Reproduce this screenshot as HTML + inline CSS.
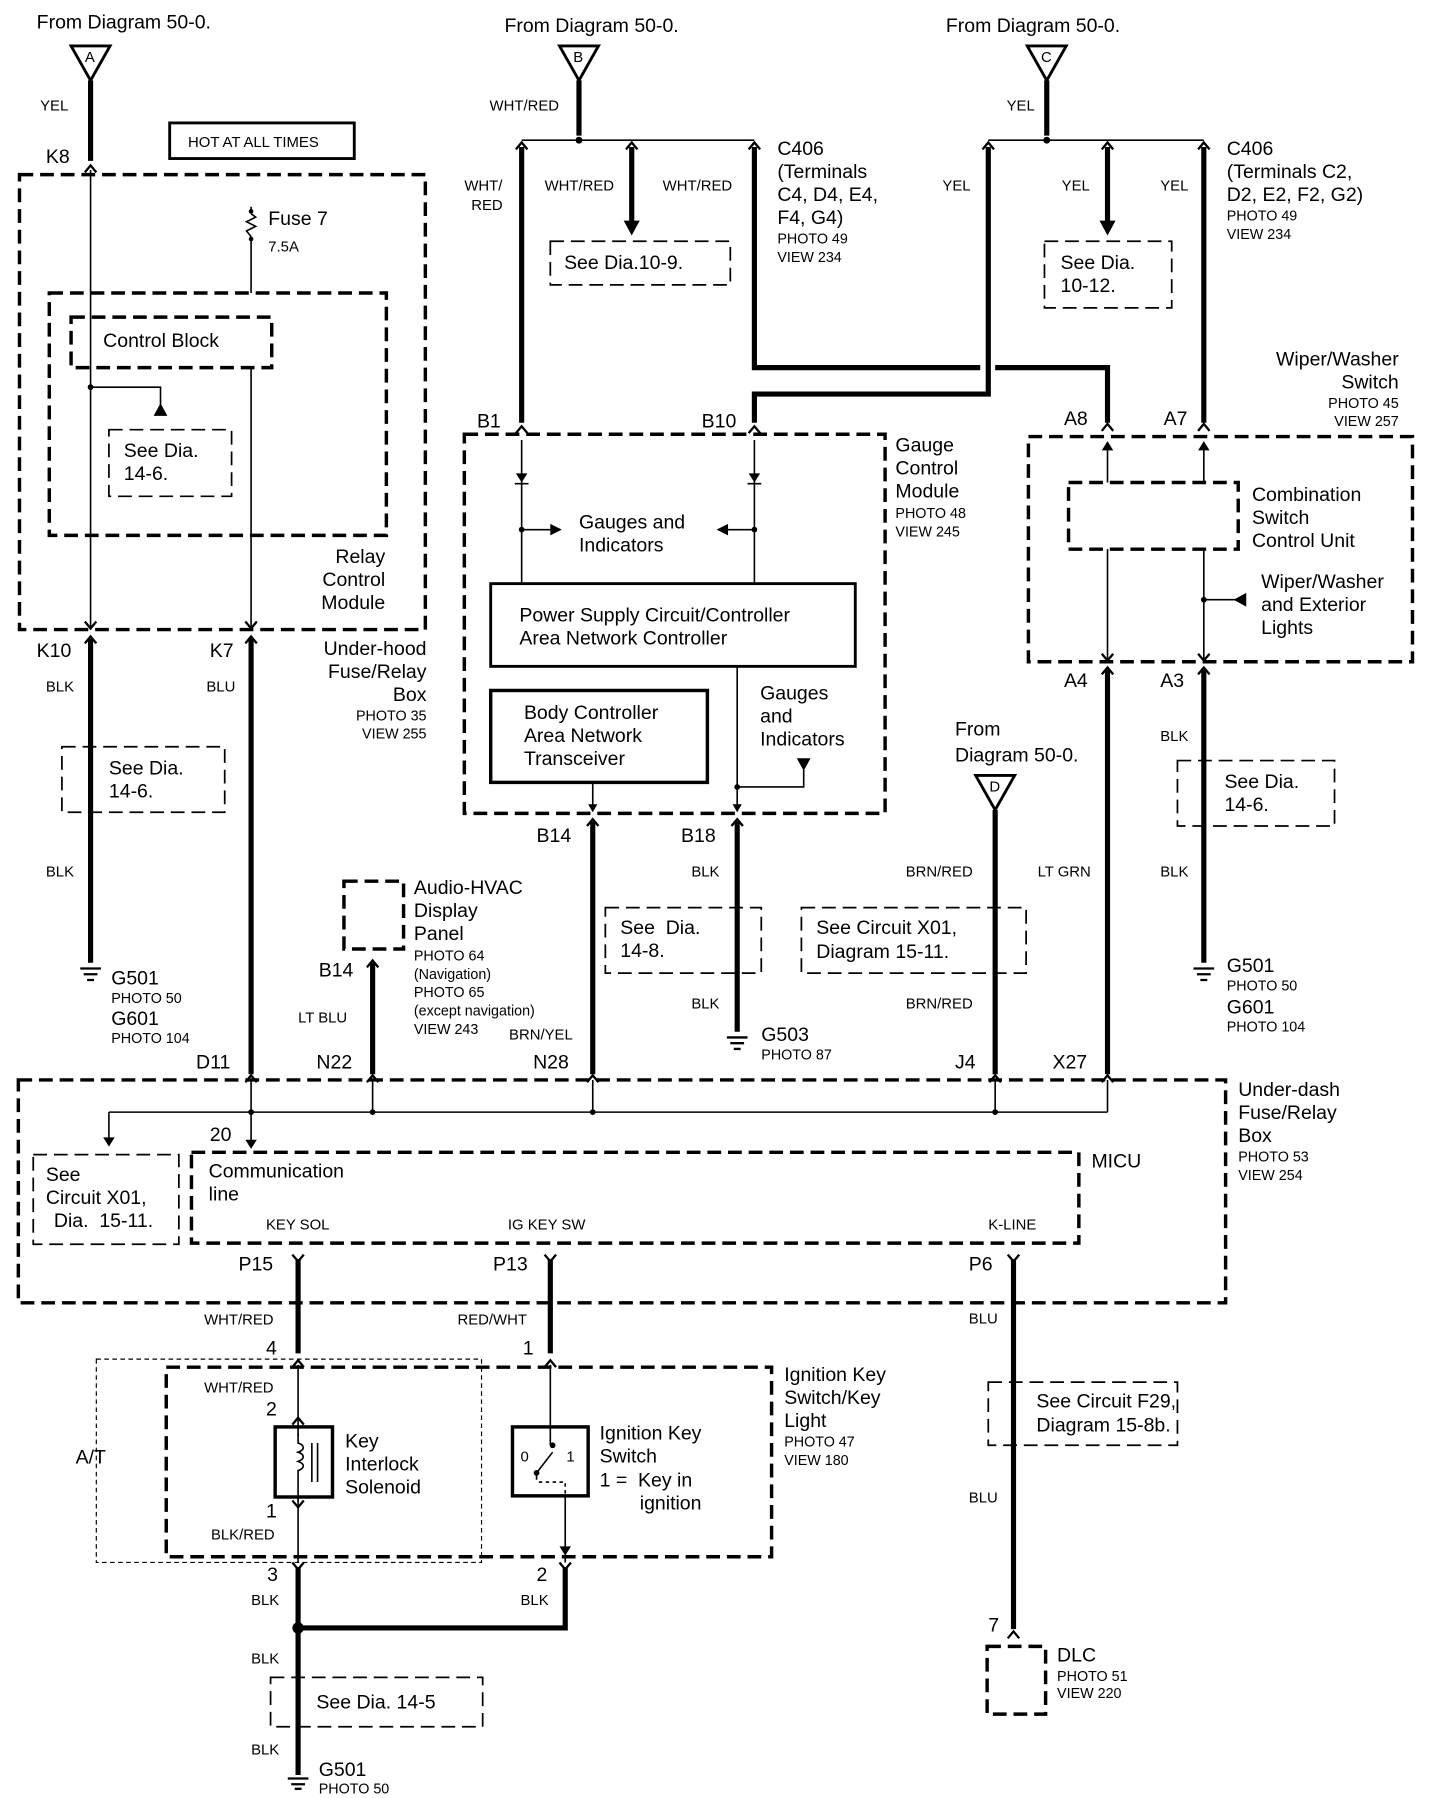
<!DOCTYPE html>
<html><head><meta charset="utf-8"><style>
html,body{margin:0;padding:0;background:#fff}
svg{display:block}
text{font-family:"Liberation Sans",sans-serif;fill:#000}
.L{font-size:17px}.S{font-size:13px}.P{font-size:12.5px}
.tk{stroke:#000;stroke-width:4.5;fill:none}
.tn{stroke:#000;stroke-width:1.4;fill:none}
.db{stroke:#000;stroke-width:3;fill:none;stroke-dasharray:12 6}
.dl{stroke:#000;stroke-width:1.5;fill:none;stroke-dasharray:12 6}
.sb{stroke:#000;stroke-width:2.5;fill:none}
.c{stroke:#000;stroke-width:2;fill:none}
</style></head><body>
<svg width="1440" height="1798" viewBox="0 0 1256 1565" preserveAspectRatio="none" xmlns="http://www.w3.org/2000/svg">
<!-- Top left A -->
<text class="L" x="32" y="25">From Diagram 50-0.</text>
<path class="sb" d="M62 40 L96 40 L79 70 Z"/><text class="S" x="74" y="54">A</text>
<path class="tk" d="M79 70 V140"/>
<text class="S" x="35" y="96">YEL</text><text class="L" x="40" y="142">K8</text>
<path class="c" d="M74 150 L79 144 L84 150"/>
<rect x="148" y="107" width="161" height="31" class="sb"/><text class="S" x="164" y="128">HOT AT ALL TIMES</text>
<rect class="db" x="17" y="152" width="354" height="396"/>
<path class="tn" d="M79 148 V548"/>
<path class="tn" d="M219 180 V186 M219 206 V255 M219 320 V548"/>
<path class="tn" d="M219 186 l4 3 l-8 4 l8 4 l-8 4 l4 5"/>
<circle cx="219" cy="184" r="2"/><circle cx="219" cy="208" r="2"/>
<text class="L" x="234" y="196">Fuse 7</text><text class="S" x="234" y="219">7.5A</text>
<rect class="db" x="43" y="255" width="294" height="211"/>
<rect class="db" x="62" y="276" width="175" height="44"/><text class="L" x="90" y="302">Control Block</text>
<circle cx="79" cy="337" r="2.5"/><path class="tn" d="M79 337 H140 V358"/><path d="M134 362 L146 362 L140 351 Z"/>
<rect class="dl" x="95" y="374" width="107" height="58"/>
<text class="L" x="108" y="398">See Dia.</text><text class="L" x="108" y="418">14-6.</text>
<text class="L" x="336" y="490" text-anchor="end">Relay</text><text class="L" x="336" y="510" text-anchor="end">Control</text><text class="L" x="336" y="530" text-anchor="end">Module</text>
<path class="c" d="M74 541 L79 547 L84 541 M214 541 L219 547 L224 541"/>
<text class="L" x="32" y="572">K10</text><text class="L" x="183" y="572">K7</text>
<path class="c" d="M74 560 L79 554 L84 560 M214 560 L219 554 L224 560"/>
<path class="tk" d="M79 556 V838"/>
<text class="S" x="40" y="602">BLK</text><text class="S" x="40" y="763">BLK</text><text class="S" x="180" y="602">BLU</text>
<rect class="dl" x="54" y="650" width="142" height="57"/><text class="L" x="95" y="674">See Dia.</text><text class="L" x="95" y="694">14-6.</text>
<path class="c" d="M70 843 H88 M73 848 H85 M76 853 H82"/>
<text class="L" x="97" y="857">G501</text><text class="P" x="97" y="873">PHOTO 50</text><text class="L" x="97" y="892">G601</text><text class="P" x="97" y="908">PHOTO 104</text>
<path class="tk" d="M219 556 V935"/>
<text class="L" x="372" y="570" text-anchor="end">Under-hood</text><text class="L" x="372" y="590" text-anchor="end">Fuse/Relay</text><text class="L" x="372" y="610" text-anchor="end">Box</text>
<text class="P" x="372" y="627" text-anchor="end">PHOTO 35</text><text class="P" x="372" y="643" text-anchor="end">VIEW 255</text>

<!-- B -->
<text class="L" x="440" y="28">From Diagram 50-0.</text>
<path class="sb" d="M488 40 L522 40 L505 70 Z"/><text class="S" x="500" y="54">B</text>
<path class="tk" d="M505 70 V118"/><text class="S" x="427" y="96">WHT/RED</text>
<path class="tn" d="M455 122 H658"/><circle cx="505" cy="122" r="3"/>
<path class="c" d="M450 130 L455 124 L460 130 M546 130 L551 124 L556 130 M653 130 L658 124 L663 130"/>
<path class="tk" d="M455 128 V368"/>
<text class="S" x="405" y="166">WHT/</text><text class="S" x="411" y="183">RED</text>
<text class="S" x="475" y="166">WHT/RED</text><text class="S" x="578" y="166">WHT/RED</text>
<path class="tk" d="M551 128 V195"/><path d="M544 192 L558 192 L551 205 Z"/>
<rect class="dl" x="480" y="210" width="157" height="38"/><text class="L" x="492" y="234">See Dia.10-9.</text>
<path class="tk" d="M658 128 V320 H855 M868 320 H966 V368"/>
<path class="tk" d="M658 368 V343 H862 V128"/>
<text class="L" x="678" y="135">C406</text><text class="L" x="678" y="155">(Terminals</text><text class="L" x="678" y="175">C4, D4, E4,</text><text class="L" x="678" y="195">F4, G4)</text>
<text class="P" x="678" y="212">PHOTO 49</text><text class="P" x="678" y="228">VIEW 234</text>

<!-- C -->
<text class="L" x="825" y="28">From Diagram 50-0.</text>
<path class="sb" d="M896 40 L930 40 L913 70 Z"/><text class="S" x="908" y="54">C</text>
<path class="tk" d="M913 70 V118"/><text class="S" x="878" y="96">YEL</text>
<path class="tn" d="M862 122 H1050"/><circle cx="913" cy="122" r="3"/>
<path class="c" d="M857 130 L862 124 L867 130 M961 130 L966 124 L971 130 M1045 130 L1050 124 L1055 130"/>
<text class="S" x="822" y="166">YEL</text><text class="S" x="926" y="166">YEL</text><text class="S" x="1012" y="166">YEL</text>
<path class="tk" d="M966 128 V195"/><path d="M959 192 L973 192 L966 205 Z"/>
<rect class="dl" x="911" y="210" width="111" height="58"/><text class="L" x="925" y="234">See Dia.</text><text class="L" x="925" y="254">10-12.</text>
<path class="tk" d="M1050 128 V368"/>
<text class="L" x="1070" y="135">C406</text><text class="L" x="1070" y="155">(Terminals C2,</text><text class="L" x="1070" y="175">D2, E2, F2, G2)</text>
<text class="P" x="1070" y="192">PHOTO 49</text><text class="P" x="1070" y="208">VIEW 234</text>

<!-- Wiper -->
<text class="L" x="1220" y="318" text-anchor="end">Wiper/Washer</text><text class="L" x="1220" y="338" text-anchor="end">Switch</text>
<text class="P" x="1220" y="355" text-anchor="end">PHOTO 45</text><text class="P" x="1220" y="371" text-anchor="end">VIEW 257</text>
<text class="L" x="928" y="370">A8</text><text class="L" x="1015" y="370">A7</text>
<path class="c" d="M961 375 L966 369 L971 375 M1045 375 L1050 369 L1055 375"/>
<rect class="db" x="897" y="380" width="335" height="196"/>
<path class="tn" d="M966 385 V420 M966 478 V576 M1050 385 V420 M1050 478 V576"/>
<path d="M961 392 L971 392 L966 384 Z M1045 392 L1055 392 L1050 384 Z"/>
<rect class="db" x="932" y="420" width="148" height="58"/>
<text class="L" x="1092" y="436">Combination</text><text class="L" x="1092" y="456">Switch</text><text class="L" x="1092" y="476">Control Unit</text>
<text class="L" x="1100" y="512">Wiper/Washer</text><text class="L" x="1100" y="532">and Exterior</text><text class="L" x="1100" y="552">Lights</text>
<circle cx="1050" cy="522" r="2.5"/><path class="tn" d="M1050 522 H1078"/><path d="M1076 522 L1087 516 L1087 528 Z"/>
<path class="c" d="M961 569 L966 575 L971 569 M1045 569 L1050 575 L1055 569"/>
<text class="L" x="928" y="598">A4</text><text class="L" x="1012" y="598">A3</text>
<path class="c" d="M961 587 L966 581 L971 587 M1045 587 L1050 581 L1055 587"/>
<path class="tk" d="M966 583 V935"/><text class="S" x="905" y="763">LT GRN</text>
<path class="tk" d="M1050 583 V838"/><text class="S" x="1012" y="645">BLK</text><text class="S" x="1012" y="763">BLK</text>
<rect class="dl" x="1027" y="662" width="137" height="57"/><text class="L" x="1068" y="686">See Dia.</text><text class="L" x="1068" y="706">14-6.</text>
<path class="c" d="M1041 843 H1059 M1044 848 H1056 M1047 853 H1053"/>
<text class="L" x="1070" y="846">G501</text><text class="P" x="1070" y="862">PHOTO 50</text><text class="L" x="1070" y="882">G601</text><text class="P" x="1070" y="898">PHOTO 104</text>

<!-- Gauge -->
<text class="L" x="416" y="372">B1</text><text class="L" x="612" y="372">B10</text>
<path class="c" d="M450 377 L455 371 L460 377 M653 377 L658 371 L663 377"/>
<rect class="db" x="405" y="378" width="367" height="330"/>
<text class="L" x="781" y="393">Gauge</text><text class="L" x="781" y="413">Control</text><text class="L" x="781" y="433">Module</text>
<text class="P" x="781" y="451">PHOTO 48</text><text class="P" x="781" y="467">VIEW 245</text>
<path class="tn" d="M455 383 V508 M658 383 V508"/>
<path d="M450 412 L460 412 L455 420 Z M653 412 L663 412 L658 420 Z"/>
<path class="tn" d="M449 421 H461 M652 421 H664"/>
<circle cx="455" cy="461" r="2.5"/><circle cx="658" cy="461" r="2.5"/>
<path class="tn" d="M455 461 H482 M658 461 H633"/><path d="M480 456 L490 461 L480 466 Z M635 456 L625 461 L635 466 Z"/>
<text class="L" x="505" y="460">Gauges and</text><text class="L" x="505" y="480">Indicators</text>
<rect class="sb" x="428" y="508" width="318" height="72"/>
<text class="L" x="453" y="541">Power Supply Circuit/Controller</text><text class="L" x="453" y="561">Area Network Controller</text>
<rect x="428" y="601" width="189" height="80" stroke="#000" stroke-width="3" fill="none"/>
<text class="L" x="457" y="626">Body Controller</text><text class="L" x="457" y="646">Area Network</text><text class="L" x="457" y="666">Transceiver</text>
<text class="L" x="663" y="609">Gauges</text><text class="L" x="663" y="629">and</text><text class="L" x="663" y="649">Indicators</text>
<path class="tn" d="M517 681 V706 M643 580 V706"/><path d="M513 700 L521 700 L517 707 Z M639 700 L647 700 L643 707 Z"/>
<circle cx="643" cy="685" r="2.5"/><path class="tn" d="M643 685 H701 V670"/><path d="M695 660 L707 660 L701 671 Z"/>
<text class="L" x="468" y="733">B14</text><text class="L" x="594" y="733">B18</text>
<path class="c" d="M512 719 L517 713 L522 719 M638 719 L643 713 L648 719"/>
<path class="tk" d="M517 715 V935"/><path class="tk" d="M643 715 V898"/>
<text class="S" x="603" y="763">BLK</text><text class="S" x="603" y="878">BLK</text>
<rect class="dl" x="528" y="790" width="136" height="57"/><text class="L" x="541" y="813">See&#160; Dia.</text><text class="L" x="541" y="833">14-8.</text>
<path class="c" d="M634 903 H652 M637 908 H649 M640 913 H646"/>
<text class="L" x="664" y="906">G503</text><text class="P" x="664" y="922">PHOTO 87</text>

<!-- Audio -->
<rect class="db" x="300" y="767" width="52" height="59"/>
<text class="L" x="361" y="778">Audio-HVAC</text><text class="L" x="361" y="798">Display</text><text class="L" x="361" y="818">Panel</text>
<text class="P" x="361" y="836">PHOTO 64</text><text class="P" x="361" y="852">(Navigation)</text><text class="P" x="361" y="868">PHOTO 65</text><text class="P" x="361" y="884">(except navigation)</text><text class="P" x="361" y="900">VIEW 243</text>
<text class="L" x="278" y="850">B14</text>
<path class="c" d="M320 842 L325 836 L330 842"/>
<path class="tk" d="M325 838 V935"/><text class="S" x="260" y="890">LT BLU</text>
<text class="S" x="444" y="905">BRN/YEL</text>

<!-- D -->
<text class="L" x="833" y="640">From</text><text class="L" x="833" y="663">Diagram 50-0.</text>
<path class="sb" d="M851 675 L885 675 L868 705 Z"/><text class="S" x="863" y="689">D</text>
<path class="tk" d="M868 705 V935"/>
<text class="S" x="790" y="763">BRN/RED</text><text class="S" x="790" y="878">BRN/RED</text>
<rect class="dl" x="699" y="790" width="196" height="57"/><text class="L" x="712" y="813">See Circuit X01,</text><text class="L" x="712" y="834">Diagram 15-11.</text>

<!-- Under dash -->
<text class="L" x="171" y="930">D11</text><text class="L" x="276" y="930">N22</text><text class="L" x="465" y="930">N28</text><text class="L" x="833" y="930">J4</text><text class="L" x="918" y="930">X27</text>
<path class="c" d="M214 942 L219 936 L224 942 M320 942 L325 936 L330 942 M512 942 L517 936 L522 942 M863 942 L868 936 L873 942 M961 942 L966 936 L971 942"/>
<rect class="db" x="16" y="940" width="1053" height="194"/>
<path class="tn" d="M219 940 V998 M325 940 V968 M517 940 V968 M868 940 V968 M966 940 V968 M95 968 H966 M95 968 V990"/>
<path d="M90 990 L100 990 L95 998 Z M214 992 L224 992 L219 1000 Z"/>
<circle cx="219" cy="968" r="2.5"/><circle cx="325" cy="968" r="2.5"/><circle cx="517" cy="968" r="2.5"/><circle cx="868" cy="968" r="2.5"/>
<text class="L" x="183" y="993">20</text>
<rect class="dl" x="29" y="1005" width="127" height="78"/>
<text class="L" x="40" y="1028">See</text><text class="L" x="40" y="1048">Circuit X01,</text><text class="L" x="47" y="1068">Dia.&#160; 15-11.</text>
<rect class="db" x="167" y="1003" width="774" height="79"/>
<text class="L" x="182" y="1025">Communication</text><text class="L" x="182" y="1045">line</text>
<text class="S" x="232" y="1070">KEY SOL</text><text class="S" x="443" y="1070">IG KEY SW</text><text class="S" x="862" y="1070">K-LINE</text>
<text class="L" x="952" y="1016">MICU</text>
<text class="L" x="1080" y="954">Under-dash</text><text class="L" x="1080" y="974">Fuse/Relay</text><text class="L" x="1080" y="994">Box</text>
<text class="P" x="1080" y="1011">PHOTO 53</text><text class="P" x="1080" y="1027">VIEW 254</text>
<text class="L" x="208" y="1106">P15</text><text class="L" x="430" y="1106">P13</text><text class="L" x="845" y="1106">P6</text>
<path class="c" d="M255 1092 L260 1098 L265 1092 M475 1092 L480 1098 L485 1092 M879 1092 L884 1098 L889 1092"/>
<path class="tk" d="M260 1096 V1178 M480 1096 V1178 M884 1096 V1418"/>
<text class="S" x="178" y="1153">WHT/RED</text><text class="S" x="399" y="1153">RED/WHT</text><text class="S" x="845" y="1152">BLU</text>
<text class="L" x="232" y="1179">4</text><text class="L" x="456" y="1179">1</text>
<path class="c" d="M255 1190 L260 1184 L265 1190 M475 1190 L480 1184 L485 1190"/>

<!-- Ignition -->
<rect x="84" y="1183" width="336" height="177" fill="none" stroke="#000" stroke-width="1" stroke-dasharray="4 3"/>
<rect class="db" x="145" y="1190" width="528" height="165"/>
<text class="L" x="684" y="1202">Ignition Key</text><text class="L" x="684" y="1222">Switch/Key</text><text class="L" x="684" y="1242">Light</text>
<text class="P" x="684" y="1259">PHOTO 47</text><text class="P" x="684" y="1275">VIEW 180</text>
<text class="L" x="66" y="1274">A/T</text>
<path class="tn" d="M260 1188 V1360"/>
<path class="c" d="M255 1240 L260 1234 L265 1240 M255 1306 L260 1312 L265 1306"/>
<text class="S" x="178" y="1212">WHT/RED</text><text class="L" x="232" y="1232">2</text>
<rect x="240" y="1242" width="50" height="61" stroke="#000" stroke-width="3" fill="#fff"/>
<path class="tn" d="M260 1248 V1256 c6 2 6 6 0 8 c6 2 6 6 0 8 c6 2 6 6 0 8 V1297 M272 1256 V1290 M277 1256 V1290"/>
<path class="tn" d="M260 1242 V1250 M260 1297 V1306"/>
<text class="L" x="232" y="1321">1</text><text class="S" x="184" y="1340">BLK/RED</text>
<text class="L" x="301" y="1260">Key</text><text class="L" x="301" y="1280">Interlock</text><text class="L" x="301" y="1300">Solenoid</text>
<path class="tn" d="M480 1188 V1258 M493 1285 V1360"/>
<path d="M488 1346 L498 1346 L493 1354 Z"/>
<rect x="447" y="1242" width="66" height="60" stroke="#000" stroke-width="3" fill="#fff"/>
<text class="S" x="454" y="1272">0</text><text class="S" x="494" y="1272">1</text>
<circle cx="468" cy="1282" r="2.5"/><circle cx="482" cy="1258" r="2.5"/>
<path class="tn" d="M468 1282 L482 1264 M480 1242 V1258 M468 1282 V1288"/>
<path class="tn" d="M470 1290 H493 V1302" stroke-dasharray="3 3"/>
<text class="L" x="523" y="1253">Ignition Key</text><text class="L" x="523" y="1273">Switch</text><text class="L" x="523" y="1294">1 =&#160; Key in</text><text class="L" x="558" y="1314">ignition</text>
<path class="c" d="M255 1360 L260 1366 L265 1360 M488 1360 L493 1366 L498 1360"/>
<text class="L" x="233" y="1376">3</text><text class="L" x="468" y="1376">2</text>
<path class="tk" d="M260 1364 V1545 M493 1364 V1417 H260"/><circle cx="260" cy="1417" r="5"/>
<text class="S" x="219" y="1397">BLK</text><text class="S" x="454" y="1397">BLK</text><text class="S" x="219" y="1448">BLK</text><text class="S" x="219" y="1527">BLK</text>
<rect class="dl" x="236" y="1460" width="185" height="43"/><text class="L" x="276" y="1487">See Dia. 14-5</text>
<path class="c" d="M251 1548 H269 M254 1553 H266 M257 1557 H263"/>
<text class="L" x="278" y="1546">G501</text><text class="P" x="278" y="1561">PHOTO 50</text>

<!-- DLC -->
<rect class="dl" x="862" y="1203" width="165" height="55"/><text class="L" x="904" y="1225">See Circuit F29,</text><text class="L" x="904" y="1246">Diagram 15-8b.</text>
<text class="S" x="845" y="1308">BLU</text>
<text class="L" x="862" y="1420">7</text>
<path class="c" d="M879 1426 L884 1420 L889 1426"/>
<rect class="db" x="861" y="1433" width="51" height="59"/>
<text class="L" x="922" y="1446">DLC</text><text class="P" x="922" y="1463">PHOTO 51</text><text class="P" x="922" y="1478">VIEW 220</text>
</svg>
</body></html>
